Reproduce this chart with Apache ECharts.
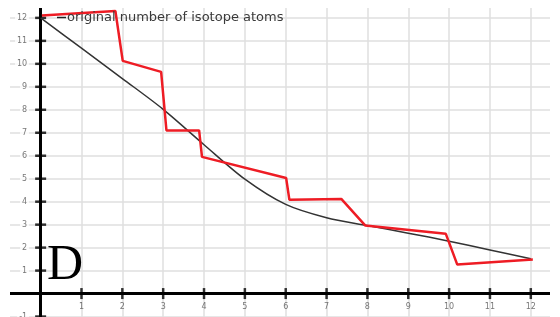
<!DOCTYPE html>
<html>
<head>
<meta charset="utf-8">
<script src="https://cdn.jsdelivr.net/npm/echarts@6/dist/echarts.min.js"></script>
<style>html,body{margin:0;padding:0;background:#fff}#c{width:560px;height:317px}</style>
</head>
<body>
<div id="c"></div>
<script>
// Data
const seriesNames = ['original number of isotope atoms', 'measured'];
const originalCurve = [[0,12],[1,10.68],[2,9.36],[3,8.02],[4,6.48],[5,4.98],[6,3.88],[7,3.3],[8,2.96],[9,2.63],[10,2.28],[11,1.9],[12,1.52]];
const measuredLine = [[0.03,12.1],[1.83,12.3],[2.01,10.13],[2.95,9.65],[3.08,7.1],[3.88,7.1],[3.95,5.95],[6.01,5.03],[6.09,4.08],[7.36,4.12],[7.95,2.96],[9.92,2.6],[10.2,1.26],[12.05,1.48]];
const xTicks = [1,2,3,4,5,6,7,8,9,10,11,12];
const yTicks = [-1,1,2,3,4,5,6,7,8,9,10,11,12];
const panelLetter = 'D';

const chart = echarts.init(document.getElementById('c'), null, {renderer:'canvas'});
const gridColor = '#dfdfdf';
const tickLabel = {color:'#555', fontSize:8, fontFamily:'DejaVu Sans'};
chart.setOption({
  animation:false,
  backgroundColor:'#fff',
  grid:{left:10, right:10, top:8, bottom:0, containLabel:false, outerBoundsMode:'none'},
  legend:{
    data:[seriesNames[0]], left:57, top:11, itemWidth:9, itemHeight:1.5, itemGap:0,
    icon:'rect', padding:0, z:20, zlevel:0,
    textStyle:{color:'#3a3a3a', fontSize:13, fontFamily:'DejaVu Sans', padding:[0,0,0,-4]}
  },
  xAxis:{
    type:'value', min:-0.75, max:12.47,
    axisLine:{show:false}, axisTick:{show:false}, axisLabel:{show:false}, splitLine:{show:false}
  },
  yAxis:{
    type:'value', min:-1.02, max:12.43,
    axisLine:{show:false}, axisTick:{show:false}, axisLabel:{show:false}, splitLine:{show:false}
  },
  series:[
    {name:'grid', type:'scatter', data:[], silent:true, z:1,
     markLine:{silent:true, symbol:'none', animation:false,
       lineStyle:{color:gridColor, width:1.5, type:'solid'}, label:{show:false},
       emphasis:{disabled:true},
       data:xTicks.map(v=>({xAxis:v})).concat(yTicks.map(v=>({yAxis:v})))}},
    {name:'xticks', type:'scatter', data:xTicks.map(v=>[v,0]), symbol:'rect', symbolSize:[2.5,11],
     itemStyle:{color:'#000'}, silent:true, z:5,
     label:Object.assign({show:true, position:'bottom', distance:4, formatter:p=>String(p.value[0])}, tickLabel),
     markLine:{silent:true, symbol:'none', animation:false,
       lineStyle:{color:'#000', width:3, type:'solid'}, label:{show:false},
       emphasis:{disabled:true},
       data:[{yAxis:0},{xAxis:0}]}},
    {name:'yticks', type:'scatter', data:yTicks.map(v=>[0,v]), symbol:'rect', symbolSize:[11,2.5],
     itemStyle:{color:'#000'}, silent:true, z:5,
     label:Object.assign({show:true, position:'left', distance:6, backgroundColor:'#fff', padding:[0,2],
       formatter:p=>String(p.value[1])}, tickLabel)},
    {name:seriesNames[0], type:'line', data:originalCurve, smooth:0.3, showSymbol:false,
     lineStyle:{color:'#333', width:1.5}, itemStyle:{color:'#222'}, z:6},
    {name:seriesNames[1], type:'line', data:measuredLine, showSymbol:false,
     lineStyle:{color:'#ee1c24', width:2.5}, itemStyle:{color:'#ee1c24'}, z:7}
  ],
  graphic:[{type:'text', left:47, top:241, z:10,
    style:{text:panelLetter, fontSize:50, fontFamily:'Liberation Serif', fill:'#000'}}]
});
</script>
</body>
</html>
